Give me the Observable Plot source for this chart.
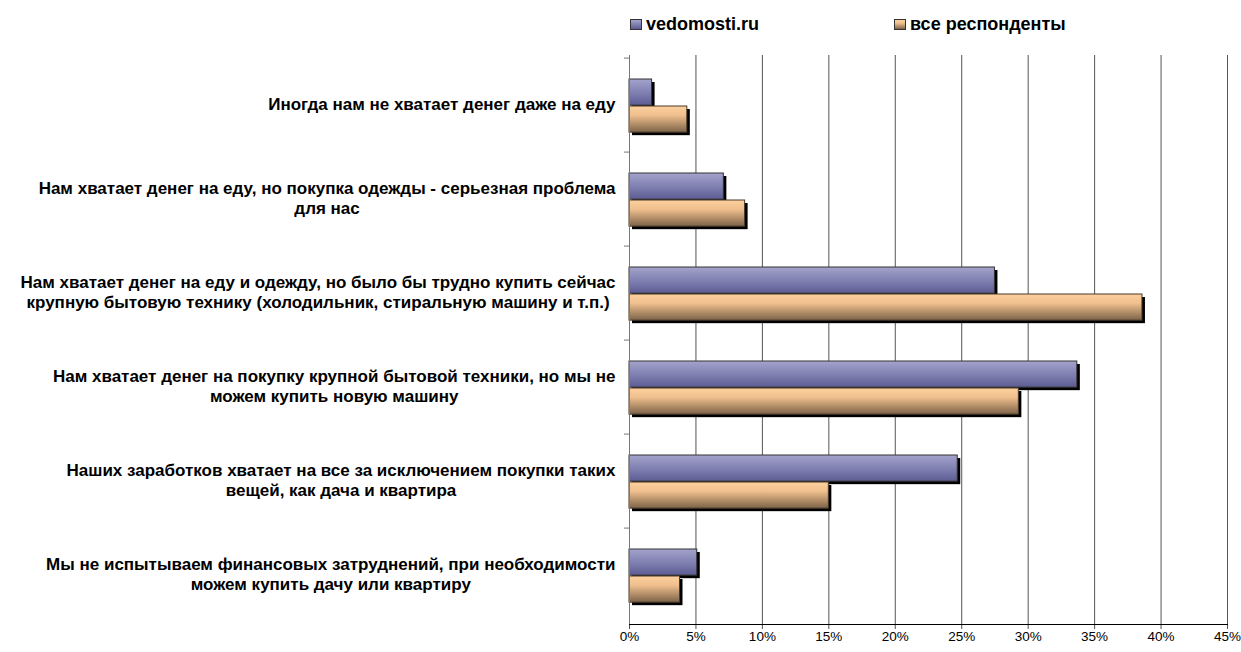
<!DOCTYPE html>
<html>
<head>
<meta charset="utf-8">
<script src="https://cdn.jsdelivr.net/npm/d3@7"></script>
<script src="https://cdn.jsdelivr.net/npm/@observablehq/plot@0.6"></script>
<style>
  body { margin: 0; background: #fff; font-family: "Liberation Sans", Arial, sans-serif; }
  #legend { position: relative; width: 1241px; height: 45px; }
  .sw { position: absolute; width: 12px; height: 11px; border: 1px solid #333; box-sizing: border-box; }
  .lt { position: absolute; font-weight: bold; font-size: 18px; line-height: 20px; color: #000; }
</style>
</head>
<body>
<div id="legend">
  <div class="sw" style="left:630px; top:19px; background: linear-gradient(#a3a3cc, #5c5c94);"></div>
  <div class="lt" style="left:646px; top:14px;">vedomosti.ru</div>
  <div class="sw" style="left:894px; top:19px; background: linear-gradient(#fcd09c, #f0c08e 35%, #7d6349);"></div>
  <div class="lt" style="left:910px; top:14px;">все респонденты</div>
</div>
<div id="chart"></div>
<script>
const categories = [
  "Иногда нам не хватает денег даже на еду",
  "Нам хватает денег на еду, но покупка одежды - серьезная проблема\nдля нас",
  "Нам хватает денег на еду и одежду, но было бы трудно купить сейчас\nкрупную бытовую технику (холодильник, стиральную машину и т.п.)",
  "Нам хватает денег на покупку крупной бытовой техники, но мы не\nможем купить новую машину",
  "Наших заработков хватает на все за исключением покупки таких\nвещей, как дача и квартира",
  "Мы не испытываем финансовых затруднений, при необходимости\nможем купить дачу или квартиру"
];
const seriesNames = ["vedomosti.ru", "все респонденты"];
const vedomosti = [1.7, 7.1, 27.5, 33.7, 24.7, 5.1];
const allRespondents = [4.35, 8.7, 38.6, 29.3, 15.0, 3.8];
const xTicks = [0, 5, 10, 15, 20, 25, 30, 35, 40, 45];

const rowsV = categories.map((c, i) => ({cat: c, series: seriesNames[0], value: vedomosti[i]}));
const rowsA = categories.map((c, i) => ({cat: c, series: seriesNames[1], value: allRespondents[i]}));

const W = 1241, H = 607, MT = 10, MB = 28, ML = 629, MR = 14;
const band = (H - MT - MB) / categories.length;
const barH = 27, outer = 21;

const svg = Plot.plot({
  width: W, height: H,
  marginTop: MT, marginBottom: MB, marginLeft: ML, marginRight: MR,
  style: {fontFamily: "'Liberation Sans', Arial, sans-serif", background: "#fff", color: "#000", overflow: "visible"},
  x: {domain: [0, 45], label: null},
  y: {domain: categories, padding: 0, label: null},
  marks: [
    Plot.gridX(xTicks, {stroke: "#555", strokeOpacity: 1}),
    Plot.axisX({ticks: xTicks, tickSize: 5, tickPadding: 2, fontSize: 13.5, tickFormat: d => d + "%", stroke: "#555"}),
    Plot.axisY({tickSize: 0, tickPadding: 14, fontSize: 17, fontWeight: "bold", lineHeight: 1.2, dy: -2}),
    Plot.axisY({tickSize: 5, tickFormat: () => "", dy: -band / 2, stroke: "#777"}),
    Plot.barX(rowsV, {x: "value", y: "cat", fill: "#000", dx: 3, dy: 3, insetTop: outer, insetBottom: band - outer - barH}),
    Plot.barX(rowsA, {x: "value", y: "cat", fill: "#000", dx: 3, dy: 3, insetTop: outer + barH, insetBottom: band - outer - 2 * barH}),
    Plot.barX(rowsV, {x: "value", y: "cat", fill: "url(#gBlue)", stroke: "#333", strokeWidth: 1, insetTop: outer, insetBottom: band - outer - barH}),
    Plot.barX(rowsA, {x: "value", y: "cat", fill: "url(#gOrange)", stroke: "#4a3a2a", strokeWidth: 1, insetTop: outer + barH, insetBottom: band - outer - 2 * barH}),
    Plot.frame({anchor: "left", stroke: "#777"}),
    Plot.frame({anchor: "bottom", stroke: "#000"})
  ]
});

const ns = "http://www.w3.org/2000/svg";
const defs = document.createElementNS(ns, "defs");
function grad(id, stops) {
  const g = document.createElementNS(ns, "linearGradient");
  g.setAttribute("id", id);
  g.setAttribute("x1", "0"); g.setAttribute("y1", "0");
  g.setAttribute("x2", "0"); g.setAttribute("y2", "1");
  for (const [o, c] of stops) {
    const s = document.createElementNS(ns, "stop");
    s.setAttribute("offset", o);
    s.setAttribute("stop-color", c);
    g.appendChild(s);
  }
  defs.appendChild(g);
}
grad("gBlue", [[0, "#a3a3cc"], [0.45, "#8585b5"], [1, "#5c5c94"]]);
grad("gOrange", [[0, "#fcd09c"], [0.35, "#f0c08e"], [1, "#7d6349"]]);
svg.insertBefore(defs, svg.firstChild);

document.getElementById("chart").appendChild(svg);

// center multi-line category labels within their block
svg.querySelectorAll('g[aria-label="y-axis tick label"] text').forEach(t => {
  const spans = t.querySelectorAll("tspan");
  if (spans.length < 2) return;
  let maxW = 0;
  spans.forEach(s => { maxW = Math.max(maxW, s.getComputedTextLength()); });
  t.setAttribute("text-anchor", "middle");
  spans.forEach(s => s.setAttribute("x", -maxW / 2));
});
</script>
</body>
</html>
